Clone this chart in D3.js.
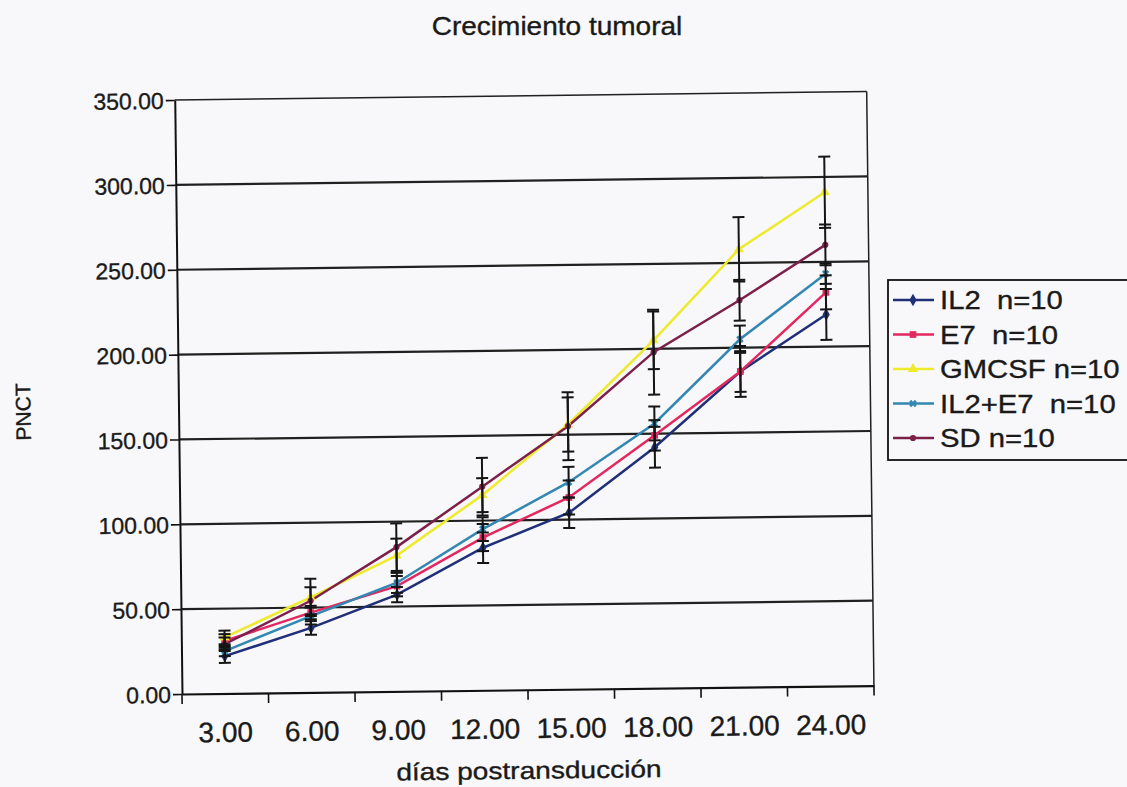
<!DOCTYPE html>
<html>
<head>
<meta charset="utf-8">
<script src="https://cdn.jsdelivr.net/npm/d3@7"></script>
<style>
  body { margin: 0; background: #f8f8fa; }
  text { font-family: "Liberation Sans", Arial, sans-serif; fill: #1a1a1a; stroke: #1a1a1a; stroke-width: 0.35px; }
</style>
</head>
<body>
<script>
// dias postransduccion
var categories = ["3.00", "6.00", "9.00", "12.00", "15.00", "18.00", "21.00", "24.00"];
var yTicks = [0, 50, 100, 150, 200, 250, 300, 350];

// PNCT means
var il2   = [22, 38, 57, 84, 104, 142, 186, 219];
var e7    = [31, 47, 62, 90, 113, 149, 186, 232];
var gmcsf = [33, 56, 80, 115, 156, 205, 258, 291];
var il2e7 = [25, 45, 64, 95, 122, 156, 205, 243];
var sd    = [29, 54, 85, 120, 155, 198, 228, 260];

// error bar half widths
var il2Err   = [4, 4, 4.5, 9, 9, 12, 15, 15];
var e7Err    = [4, 4, 6, 8, 10, 9, 12, 10];
var gmcsfErr = [4, 11, 10, 10, 16, 17, 19, 21];
var il2e7Err = [3, 5, 6, 7, 9, 10, 8, 6];
var sdErr    = [4, 8, 14, 17, 20, 25, 12, 12];

var seriesNames = ["IL2  n=10", "E7  n=10", "GMCSF n=10", "IL2+E7  n=10", "SD n=10"];

var series = [
  { name: seriesNames[0], values: il2,   err: il2Err,   color: "#1f2f78", symbol: d3.symbolDiamond,  size: 45 },
  { name: seriesNames[1], values: e7,    err: e7Err,    color: "#e2285f", symbol: d3.symbolSquare,   size: 45 },
  { name: seriesNames[2], values: gmcsf, err: gmcsfErr, color: "#eeea2c", symbol: d3.symbolTriangle, size: 45 },
  { name: seriesNames[3], values: il2e7, err: il2e7Err, color: "#3487b2", symbol: d3.symbolCross,    size: 35 },
  { name: seriesNames[4], values: sd,    err: sdErr,    color: "#7d2049", symbol: d3.symbolCircle,   size: 30 }
];

var W = 1127, H = 787;
var svg = d3.select("body").append("svg").attr("width", W).attr("height", H);
svg.append("rect").attr("width", W).attr("height", H).attr("fill", "#f8f8fa");

// stretch a text horizontally (the scan is wider than the font)
function stretch(sel, k) {
  sel.each(function() {
    var len = this.getComputedTextLength();
    d3.select(this).attr("textLength", len * k).attr("lengthAdjust", "spacingAndGlyphs");
  });
}

var x = d3.scaleBand().domain(categories).range([182, 874]);
var y = d3.scaleLinear().domain([0, 350]).range([694, 100]);
var cx = function(i) { return x(categories[i]) + x.bandwidth() / 2; };

// the scanned chart sits slightly tilted
var plot = svg.append("g").attr("transform", "rotate(-0.7,182,694)");

// gridlines + plot border
plot.selectAll(".grid")
  .data(yTicks.filter(function(d) { return d > 0; }))
  .enter().append("line")
  .attr("x1", 182).attr("x2", 874)
  .attr("y1", function(d) { return y(d); })
  .attr("y2", function(d) { return y(d); })
  .attr("stroke", "#202020")
  .attr("stroke-width", function(d) { return d == 350 ? 1.5 : 2.2; });
plot.append("line")
  .attr("x1", 874).attr("x2", 874).attr("y1", y(350)).attr("y2", y(0))
  .attr("stroke", "#202020").attr("stroke-width", 1.5);

// y axis
var yAxis = plot.append("g")
  .attr("transform", "translate(182,0)")
  .call(d3.axisLeft(y).tickValues(yTicks).tickFormat(d3.format(".2f")).tickSize(9).tickSizeOuter(0).tickPadding(2));
yAxis.select(".domain").attr("stroke", "#111").attr("stroke-width", 2);
yAxis.selectAll(".tick line").attr("stroke", "#111").attr("stroke-width", 1.6);
yAxis.selectAll(".tick text")
  .style("font-family", "'Liberation Sans', Arial, sans-serif")
  .attr("font-size", 23).attr("fill", "#1a1a1a").attr("dy", "0.36em");

// x axis
var xAxis = plot.append("g")
  .attr("transform", "translate(0,694)")
  .call(d3.axisBottom(x).tickSize(0).tickSizeOuter(0).tickPadding(40));
xAxis.select(".domain").attr("stroke", "#111").attr("stroke-width", 2.2);
xAxis.selectAll(".tick text")
  .style("font-family", "'Liberation Sans', Arial, sans-serif")
  .attr("font-size", 28).attr("fill", "#1a1a1a").attr("dy", "0.3em");
plot.selectAll(".xtick")
  .data(categories.map(function(c) { return x(c); }).concat([x.range()[1]]))
  .enter().append("line")
  .attr("x1", function(d) { return d; }).attr("x2", function(d) { return d; })
  .attr("y1", 694).attr("y2", 704)
  .attr("stroke", "#111").attr("stroke-width", 1.6);

// axis titles
plot.append("text")
  .attr("x", 528).attr("y", 783)
  .attr("text-anchor", "middle").attr("font-size", 24)
  .text("días postransducción")
  .call(stretch, 1.17);
plot.append("text")
  .attr("transform", "translate(34,410) rotate(-90)")
  .attr("text-anchor", "middle").attr("font-size", 21)
  .text("PNCT");

// lines
var line = d3.line()
  .x(function(d, i) { return cx(i); })
  .y(function(d) { return y(d); });

plot.selectAll(".series")
  .data(series)
  .enter().append("path")
  .attr("d", function(s) { return line(s.values); })
  .attr("fill", "none")
  .attr("stroke", function(s) { return s.color; })
  .attr("stroke-width", 2.5);

// markers
series.forEach(function(s) {
  plot.selectAll(null)
    .data(s.values)
    .enter().append("path")
    .attr("transform", function(d, i) { return "translate(" + cx(i) + "," + y(d) + ")" + (s.symbol === d3.symbolCross ? " rotate(45)" : ""); })
    .attr("d", d3.symbol().type(s.symbol).size(s.size))
    .attr("fill", s.color);
});

// error bars
series.forEach(function(s) {
  var g = plot.append("g").attr("stroke", "#151515").attr("stroke-width", 2);
  s.values.forEach(function(v, i) {
    var e = s.err[i];
    g.append("line").attr("x1", cx(i)).attr("x2", cx(i)).attr("y1", y(v - e)).attr("y2", y(v + e));
    g.append("line").attr("x1", cx(i) - 6).attr("x2", cx(i) + 6).attr("y1", y(v + e)).attr("y2", y(v + e));
    g.append("line").attr("x1", cx(i) - 6).attr("x2", cx(i) + 6).attr("y1", y(v - e)).attr("y2", y(v - e));
  });
});

// title
svg.append("text")
  .attr("x", 557).attr("y", 35)
  .attr("text-anchor", "middle").attr("font-size", 25)
  .text("Crecimiento tumoral")
  .call(stretch, 1.12);

// legend
var legend = svg.append("g").attr("transform", "translate(888,280)");
legend.append("rect")
  .attr("width", 260).attr("height", 180)
  .attr("fill", "#f8f8fa").attr("stroke", "#111").attr("stroke-width", 1.8);
var item = legend.selectAll(".item")
  .data(series)
  .enter().append("g")
  .attr("transform", function(d, i) { return "translate(0," + (20 + i * 34.5) + ")"; });
item.append("line")
  .attr("x1", 5).attr("x2", 46).attr("y1", 0).attr("y2", 0)
  .attr("stroke", function(d) { return d.color; }).attr("stroke-width", 2.5);
item.append("path")
  .attr("transform", function(d) { return "translate(25,0)" + (d.symbol === d3.symbolCross ? " rotate(45)" : ""); })
  .attr("d", function(d) { return d3.symbol().type(d.symbol).size(d.size)(); })
  .attr("fill", function(d) { return d.color; });
item.append("text")
  .attr("x", 52).attr("y", 9)
  .attr("font-size", 25)
  .attr("xml:space", "preserve")
  .style("white-space", "pre")
  .text(function(d) { return d.name; })
  .call(stretch, 1.17);
</script>
</body>
</html>
